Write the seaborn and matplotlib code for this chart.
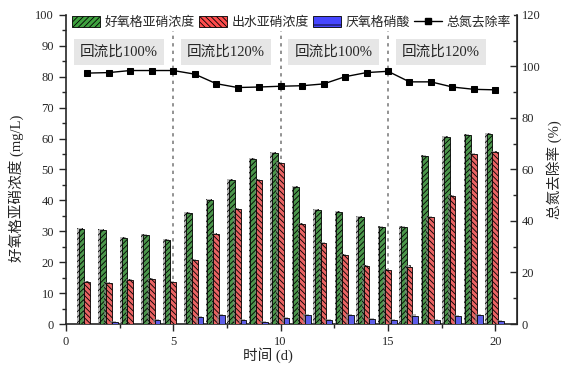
import numpy as np
import pandas as pd
import seaborn as sns
import matplotlib.pyplot as plt
import matplotlib.patches as mpatches
import matplotlib.patheffects as pe
from matplotlib.lines import Line2D
from matplotlib.ticker import MultipleLocator

# data
days = list(range(1, 21))
aerobic_nitrite = [30.7, 30.4, 27.7, 28.7, 27.2, 35.8, 40.0, 46.6, 53.3, 55.2,
                   44.2, 36.8, 36.1, 34.5, 31.3, 31.3, 54.2, 60.4, 61.2, 61.5]
effluent_nitrite = [13.5, 13.3, 14.1, 14.6, 13.5, 20.6, 29.0, 37.1, 46.6, 52.0,
                    32.3, 26.1, 22.3, 18.8, 17.4, 18.6, 34.5, 41.3, 55.0, 55.6]
anoxic_nitrate = [0.0, 0.6, 0.0, 1.3, 0.0, 2.2, 2.9, 1.2, 0.7, 1.9,
                  2.9, 1.2, 2.8, 1.6, 1.3, 2.7, 1.2, 2.5, 2.9, 1.0]
tn_removal = [97.4, 97.6, 98.4, 98.4, 98.4, 97.0, 93.3, 91.8, 92.0, 92.3,
              92.5, 93.2, 96.0, 97.6, 98.1, 94.0, 94.0, 92.0, 91.1, 90.9]
series_names = ['好氧格亚硝浓度', '出水亚硝浓度', '厌氧格硝酸']
line_name = '总氮去除率'
phase_starts = [0, 5, 10, 15]
phase_labels = ['回流比100%', '回流比120%', '回流比100%', '回流比120%']

colors = ['#3fa23f', '#ff4d4d', '#4646ff']
hatches = ['//////', '\\\\\\\\\\\\', '-']

df = pd.DataFrame({
    'day': days * 3,
    'value': aerobic_nitrite + effluent_nitrite + anoxic_nitrate,
    'series': [s for s in series_names for _ in days],
})

sns.set_style('ticks')
plt.rcParams['font.family'] = ['Liberation Serif', 'Noto Sans CJK SC']
plt.rcParams['hatch.linewidth'] = 0.6
plt.rcParams['axes.unicode_minus'] = False

fig = plt.figure(figsize=(5.63, 3.72), dpi=100)
ax = fig.add_axes([0.117, 0.129, 0.801, 0.831])

sns.barplot(data=df, x='day', y='value', hue='series', native_scale=True,
            width=0.81, dodge=True, errorbar=None, palette=colors,
            edgecolor='black', linewidth=0.6, ax=ax, zorder=3)
if ax.get_legend():
    ax.get_legend().remove()

shadow = [pe.SimplePatchShadow(offset=(-1.2, 0.9), shadow_rgbFace='#888888', alpha=0.6),
          pe.Normal()]
for cont, h in zip(ax.containers, hatches):
    for p in cont.patches:
        p.set_hatch(h)
        p.set_path_effects(shadow)

# phase boundaries
for x in phase_starts[1:]:
    ax.axvline(x, color='#808080', ls=(0, (2, 2.5)), lw=1.2, zorder=2)
for x, lab in zip(phase_starts, phase_labels):
    ax.text(x + 0.65, 88, lab, fontsize=10.5, ha='left', va='center', zorder=4,
            bbox=dict(facecolor='#e6e6e6', edgecolor='none', pad=4.5))

ax.set_xlim(0, 21)
ax.set_ylim(0, 100)
ax.xaxis.set_major_locator(MultipleLocator(5))
ax.xaxis.set_minor_locator(MultipleLocator(2.5))
ax.yaxis.set_major_locator(MultipleLocator(10))
ax.yaxis.set_minor_locator(MultipleLocator(5))
ax.tick_params(which='major', length=5, width=1, labelsize=9, direction='out')
ax.tick_params(which='minor', length=3, width=1, direction='out')
ax.set_xlabel('时间 (d)', fontsize=10.5)
ax.set_ylabel('好氧格亚硝浓度 (mg/L)', fontsize=10.5)
ax.xaxis.set_label_coords(0.447, -0.075)
ax.yaxis.set_label_coords(-0.093, 0.44)
for s in ['left', 'bottom']:
    ax.spines[s].set_linewidth(1.2)
ax.spines['top'].set_visible(False)

ax2 = ax.twinx()
sns.lineplot(x=days, y=tn_removal, ax=ax2, color='black', lw=1, marker='s',
             markersize=5, markeredgecolor='black', zorder=5)
ax2.set_ylim(0, 120)
ax2.yaxis.set_major_locator(MultipleLocator(20))
ax2.yaxis.set_minor_locator(MultipleLocator(10))
ax2.tick_params(which='major', length=5, width=1, labelsize=9, direction='in')
ax2.tick_params(which='minor', length=3, width=1, direction='in')
ax2.set_ylabel('总氮去除率 (%)', fontsize=10.5, labelpad=4)
ax2.spines['right'].set_linewidth(1.2)
for s in ['top', 'left', 'bottom']:
    ax2.spines[s].set_visible(False)

handles = [mpatches.Patch(facecolor=c, edgecolor='black', hatch=h, lw=0.6)
           for c, h in zip(colors, hatches)]
handles.append(Line2D([], [], color='black', lw=1, marker='s', markersize=5))
leg = ax2.legend(handles, series_names + [line_name], loc='upper center',
                 bbox_to_anchor=(0.5, 1.01), ncol=4, fontsize=9.3, frameon=True,
                 handlelength=2.2, handleheight=1.0, handletextpad=0.35,
                 columnspacing=0.3, borderpad=0.2, borderaxespad=0.1)
leg.get_frame().set_facecolor('white')
leg.get_frame().set_edgecolor('none')
leg.get_frame().set_alpha(1)
leg.set_zorder(10)

fig.savefig('out.png', dpi=100)
